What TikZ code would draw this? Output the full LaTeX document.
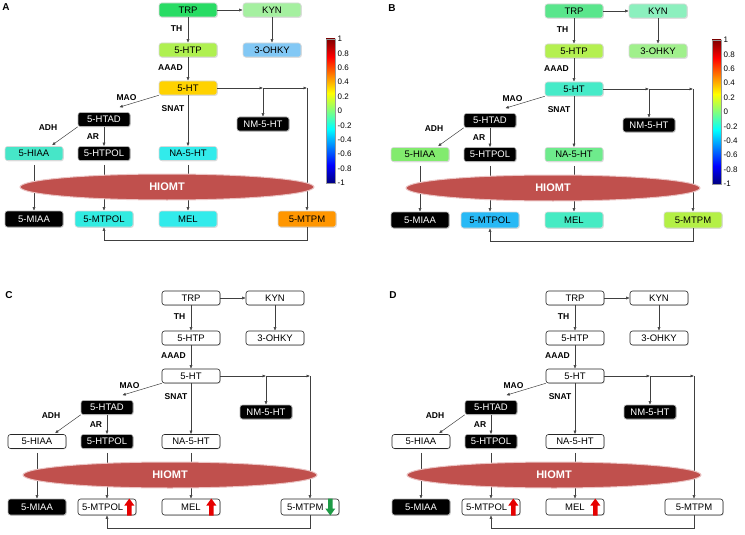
\documentclass[tikz,border=0pt]{standalone}
\usepackage{fontspec}
\setmainfont{Liberation Sans}
\usetikzlibrary{arrows.meta, shapes.geometric, shadows, calc}
\tikzset{> = { Latex[length = 3.5pt, width = 3pt] }}

% Panel A colours.
\definecolor{trpA}{RGB}{40,220,100}
\definecolor{kynA}{RGB}{165,240,160}
\definecolor{htpA}{RGB}{175,240,80}
\definecolor{ohkyA}{RGB}{130,200,245}
\definecolor{htA}{RGB}{255,210,0}
\definecolor{hiaaA}{RGB}{70,230,200}
\definecolor{nahtA}{RGB}{50,235,235}
\definecolor{mtpolA}{RGB}{50,235,225}
\definecolor{melA}{RGB}{50,235,235}
\definecolor{mtpmA}{RGB}{255,150,0}
% Panel B colours.
\definecolor{trpB}{RGB}{90,230,140}
\definecolor{kynB}{RGB}{140,240,190}
\definecolor{htpB}{RGB}{180,240,80}
\definecolor{ohkyB}{RGB}{160,240,140}
\definecolor{htB}{RGB}{70,235,200}
\definecolor{hiaaB}{RGB}{130,235,110}
\definecolor{nahtB}{RGB}{110,235,140}
\definecolor{mtpolB}{RGB}{40,185,245}
\definecolor{melB}{RGB}{70,235,195}
\definecolor{mtpmB}{RGB}{180,240,70}
% Others.
\definecolor{hiomtRed}{RGB}{192,80,77}
\definecolor{hiomtRim}{RGB}{235,195,195}
\definecolor{arrRed}{RGB}{230,0,0}
\definecolor{arrGreen}{RGB}{30,155,70}

% Jet colour map, fitted to the middle 50bp.
\pgfdeclareverticalshading{jet}{100bp}{rgb(0bp)=(0,0,0.5); rgb(25bp)=(0,0,0.5); rgb(31.25bp)=(0,0,1); rgb(43.75bp)=(0,1,1); rgb(56.25bp)=(1,1,0); rgb(68.75bp)=(1,0,0); rgb(75bp)=(0.5,0,0); rgb(100bp)=(0.5,0,0)}

\tikzset{
	met/.style = {rectangle, rounded corners = 2.5pt, minimum width = 58pt, minimum height = 14pt, inner sep = 1pt,
		font = \fontsize{9.5}{11}\selectfont, draw = black!85, line width = 0.6pt, fill = white,
		drop shadow = {shadow xshift = 0.8pt, shadow yshift = -0.8pt, opacity = 0.25}},
	blk/.style = {met, minimum width = 52pt, fill = black, draw = black!30, text = white},
	lowrow/.style = {minimum height = 16pt},
	colr/.style = {fill = #1, draw = black!15},
	enz/.style = {font = \bfseries\fontsize{8.5}{10}\selectfont, inner sep = 0pt},
	panellabel/.style = {font = \bfseries\fontsize{10}{12}\selectfont, inner sep = 0pt},
	hiomt/.style = {ellipse, minimum width = 294pt, minimum height = 26pt, inner sep = 0pt, fill = hiomtRed,
		draw = hiomtRim, line width = 1pt, text = white, font = \bfseries\fontsize{11}{13}\selectfont},
	cbtick/.style = {anchor = west, inner sep = 0.5pt, font = \fontsize{8}{9}\selectfont},
	flow/.style = {->, draw = black!75, line width = 0.5pt},
	cTRP/.style = {}, cKYN/.style = {}, cHTP/.style = {}, cOHKY/.style = {}, cHT/.style = {},
	cHIAA/.style = {}, cNAHT/.style = {}, cMTPOL/.style = {}, cMEL/.style = {}, cMTPM/.style = {},
	upArr/.pic = {
		\fill[arrRed] (0, -8.5) -- (5, -1.5) -- (2.2, -1.5) -- (2.2, 8.5) -- (-2.2, 8.5) -- (-2.2, -1.5) -- (-5, -1.5) -- cycle;
	},
	downArr/.pic = {
		\fill[arrGreen] (0, 8.5) -- (5, 1.5) -- (2.2, 1.5) -- (2.2, -8.5) -- (-2.2, -8.5) -- (-2.2, 1.5) -- (-5, 1.5) -- cycle;
	}
}

\newcommand{\pathway}[1]{%
	\node[panellabel] (#1lbl) at (6, 7) {#1};
	% Metabolites.
	\node[met, cTRP] (#1trp) at (188, 10) {TRP};
	\node[met, cKYN] (#1kyn) at (272, 10) {KYN};
	\node[met, cHTP] (#1htp) at (188, 50) {5-HTP};
	\node[met, cOHKY] (#1ohky) at (272, 50) {3-OHKY};
	\node[met, cHT] (#1ht) at (188, 88) {5-HT};
	\node[blk] (#1htad) at (104, 119.5) {5-HTAD};
	\node[blk] (#1nmht) at (263, 124) {NM-5-HT};
	\node[met, cHIAA] (#1hiaa) at (34, 153.5) {5-HIAA};
	\node[blk] (#1htpol) at (104, 153.5) {5-HTPOL};
	\node[met, cNAHT] (#1naht) at (188, 153.5) {NA-5-HT};
	\node[blk, lowrow, minimum width = 58pt] (#1miaa) at (34, 219) {5-MIAA};
	\node[met, lowrow, cMTPOL] (#1mtpol) at (104, 219) {5-MTPOL};
	\node[met, lowrow, cMEL] (#1mel) at (188, 219) {MEL};
	\node[met, lowrow, cMTPM] (#1mtpm) at (307, 219) {5-MTPM};
	% Enzymes.
	\node[enz] (#1th) at (176.5, 29) {TH};
	\node[enz] (#1aaad) at (170.5, 68) {AAAD};
	\node[enz] (#1mao) at (126.5, 98) {MAO};
	\node[enz] (#1snat) at (173, 109) {SNAT};
	\node[enz] (#1adh) at (48, 128) {ADH};
	\node[enz] (#1ar) at (93, 137) {AR};
	% Connectors.
	\draw[flow] (#1trp) -- (#1kyn);
	\draw[flow] (#1trp) -- (#1htp);
	\draw[flow] (#1kyn) -- (#1ohky);
	\draw[flow] (#1htp) -- (#1ht);
	\draw[flow] (#1ht.south west) -- ($(#1htad.north east) + (-11, -5)$);
	\draw[flow] (#1ht) -- (#1naht);
	\draw[flow] (#1htad.south west) -- ($(#1hiaa.north) + (18, -1)$);
	\draw[flow] (#1htad) -- (#1htpol);
	\coordinate (#1br) at (#1ht.east -| #1nmht.north);
	\coordinate (#1cr) at (#1ht.east -| #1mtpm.north);
	\draw[flow] (#1ht.east) -- (#1br);
	\draw[flow] (#1br) -- (#1cr);
	\draw[flow] (#1br) -- (#1nmht.north);
	\draw[flow] (#1cr) -- (#1mtpm.north);
	\draw[flow, shorten <= 4pt] (#1hiaa) -- (#1miaa);
	\draw[flow, shorten <= 4pt] (#1htpol) -- (#1mtpol);
	\draw[flow, shorten <= 4pt] (#1naht) -- (#1mel);
	\draw[flow] (#1mtpm.south) -- ++(0, 13) -| (#1mtpol.south);
	% Methyltransferase.
	\node[hiomt] (#1hiomt) at (167, 187) {HIOMT};
}

\newcommand{\colourbar}{%
	\shade[shading = jet, draw = black!40, line width = 0.3pt] (326, 39) rectangle (335, 183);
	\foreach \v [count = \i from 0] in {1, 0.8, 0.6, 0.4, 0.2, 0, -0.2, -0.4, -0.6, -0.8, -1}
		\node[cbtick] at (337, {39 + 14.4 * \i}) {\v};
}

\begin{document}
\begin{tikzpicture}[x = 1pt, y = -1pt]
	\useasboundingbox (0, 0) rectangle (745, 535);

	% Panel A.
	\begin{scope}[cTRP/.style = {colr = trpA}, cKYN/.style = {colr = kynA}, cHTP/.style = {colr = htpA},
		cOHKY/.style = {colr = ohkyA}, cHT/.style = {colr = htA}, cHIAA/.style = {colr = hiaaA},
		cNAHT/.style = {colr = nahtA}, cMTPOL/.style = {colr = mtpolA}, cMEL/.style = {colr = melA},
		cMTPM/.style = {colr = mtpmA}]
		\pathway{A}
		\colourbar
	\end{scope}

	% Panel B.
	\begin{scope}[shift = {(386, 1)}, cTRP/.style = {colr = trpB}, cKYN/.style = {colr = kynB}, cHTP/.style = {colr = htpB},
		cOHKY/.style = {colr = ohkyB}, cHT/.style = {colr = htB}, cHIAA/.style = {colr = hiaaB},
		cNAHT/.style = {colr = nahtB}, cMTPOL/.style = {colr = mtpolB}, cMEL/.style = {colr = melB},
		cMTPM/.style = {colr = mtpmB}]
		\pathway{B}
		\colourbar
	\end{scope}

	% Panel C.
	\begin{scope}[shift = {(3, 288)}, cMTPOL/.style = {text width = 50pt, align = left},
		cMTPM/.style = {text width = 46pt, align = left}]
		\pathway{C}
		\pic at ([xshift = -7pt] Cmtpol.east) {upArr};
		\pic at ([xshift = -9pt] Cmel.east) {upArr};
		\pic at ([xshift = -9pt] Cmtpm.east) {downArr};
	\end{scope}

	% Panel D.
	\begin{scope}[shift = {(387, 288)}, cMTPOL/.style = {text width = 50pt, align = left}]
		\pathway{D}
		\pic at ([xshift = -7pt] Dmtpol.east) {upArr};
		\pic at ([xshift = -9pt] Dmel.east) {upArr};
	\end{scope}
\end{tikzpicture}
\end{document}
